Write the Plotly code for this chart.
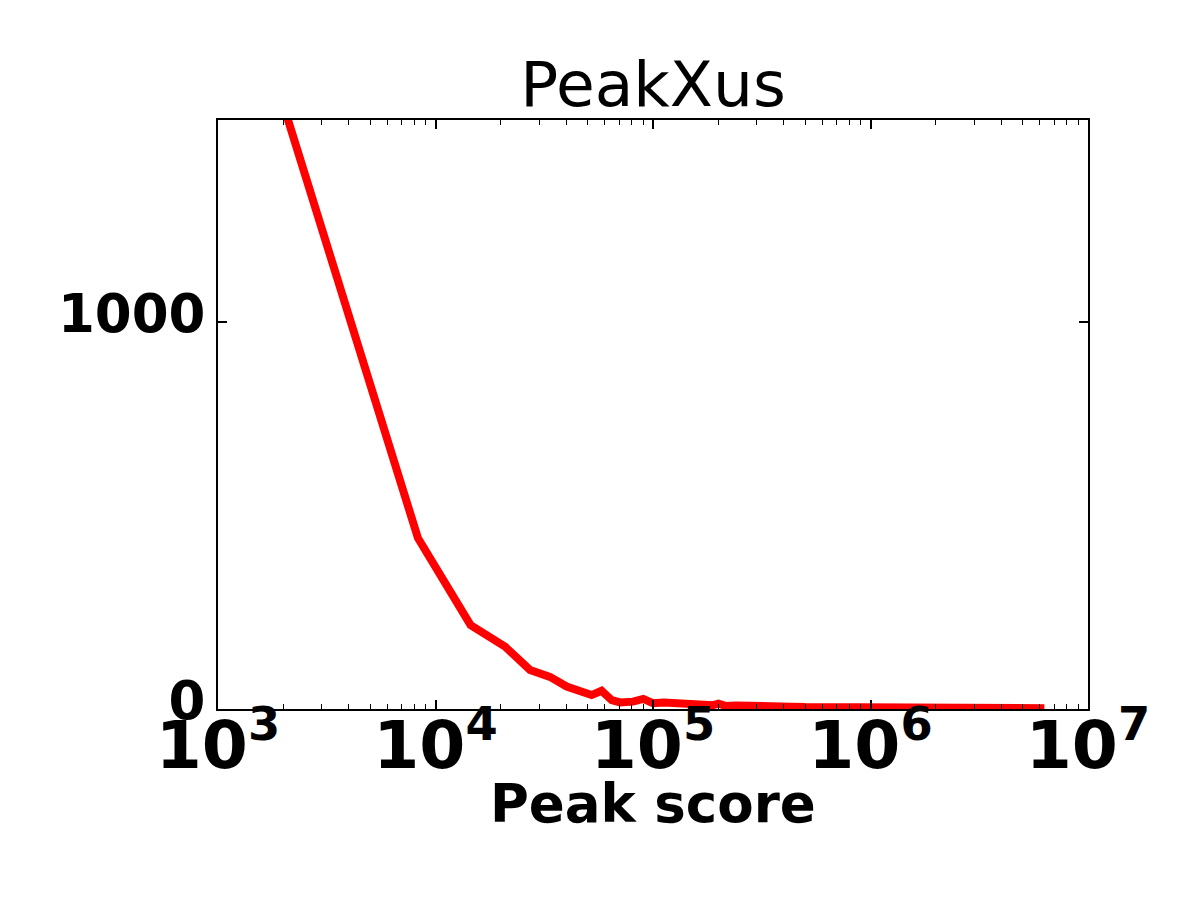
import plotly.graph_objects as go

# Data
peak_score = [2000, 8300, 14500, 20900, 27200, 33600, 40100, 46100, 52200, 58000,
              64600, 70500, 80900, 90200, 100000, 112000, 124000, 138000, 153000,
              170000, 189000, 200000, 215000, 240000, 280000, 320000, 370000,
              430000, 500000, 600000, 700000, 800000, 1000000, 1300000, 1700000,
              2200000, 3000000, 4000000, 5000000, 6300000]
count = [1560, 442, 217, 161, 101, 83, 58, 49, 36, 47,
         23, 17, 19, 26, 15, 17, 15, 14, 13,
         11, 10, 14, 8, 9, 7, 7, 6,
         6, 5, 5, 4, 5, 4, 4, 3,
         3, 3, 2, 2, 2]

title_text = "PeakXus"
x_label = "Peak score"
y_ticks = [0, 1000]

fig = go.Figure()
fig.add_trace(go.Scatter(
    x=peak_score, y=count, mode="lines",
    line=dict(color="#ff0000", width=8),
    showlegend=False,
))

fig.update_layout(
    width=1200, height=900,
    paper_bgcolor="white", plot_bgcolor="white",
    margin=dict(l=210, r=120, t=112, b=199),
    font=dict(family="DejaVu Sans", color="black"),
    title=dict(text=title_text, x=645 / 1200, xanchor="center",
               y=1 - 76 / 900, yanchor="middle",
               font=dict(size=63, family="DejaVu Sans", color="black")),
    annotations=[dict(
        text=x_label, xref="paper", yref="paper",
        x=0.5, y=-(795 - 701) / 589, xanchor="center", yanchor="middle",
        showarrow=False,
        font=dict(size=53, family="DejaVu Sans", weight="bold", color="black"),
    )],
)

fig.update_xaxes(
    type="log", range=[3, 7],
    dtick=1, exponentformat="power",
    showgrid=False, zeroline=False,
    showline=True, linecolor="black", linewidth=2, mirror="allticks",
    ticks="inside", ticklen=9, tickwidth=1.5, tickcolor="black",
    ticklabelstandoff=-20,
    tickfont=dict(size=53, family="DejaVu Sans", weight="bold", color="black"),
    minor=dict(ticks="inside", ticklen=5, tickwidth=1, tickcolor="black", dtick="D1", showgrid=False),
)
fig.update_yaxes(
    range=[0, 1522],
    tickvals=y_ticks,
    showgrid=False, zeroline=False,
    showline=True, linecolor="black", linewidth=2, mirror="allticks",
    ticks="inside", ticklen=9, tickwidth=1.5, tickcolor="black",
    ticklabelstandoff=0,
    ticklabelshift=-9,
    tickfont=dict(size=53, family="DejaVu Sans", weight="bold", color="black"),
)

fig.write_html("out.html")
